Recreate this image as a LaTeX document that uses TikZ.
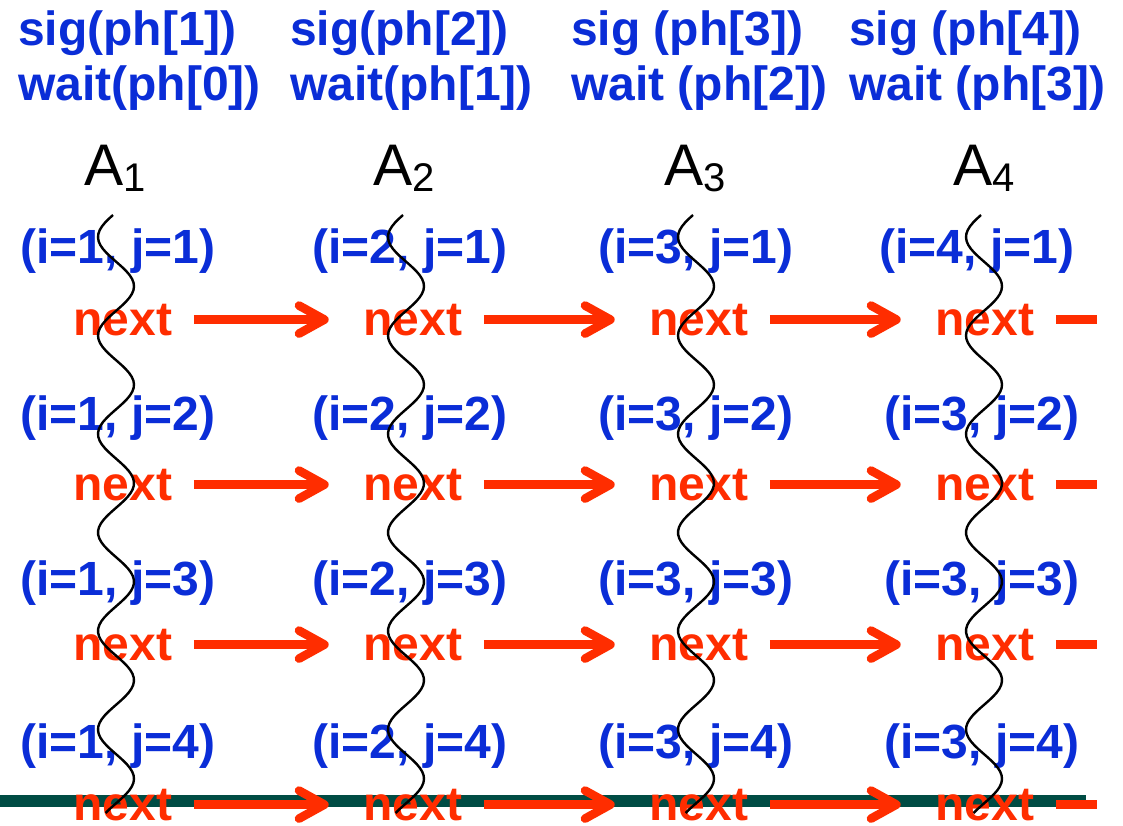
\documentclass[tikz,border=0pt]{standalone}
\usepackage{fontspec}
\setmainfont{Liberation Sans}
\usetikzlibrary{arrows.meta}

\definecolor{phblue}{RGB}{10,45,215}
\definecolor{nxtred}{RGB}{255,45,0}
\definecolor{barteal}{RGB}{0,76,68}

\newcommand{\agent}[1]{A\raisebox{-5pt}{\fontsize{30}{30}\selectfont #1}}

\begin{document}
\begin{tikzpicture}[
    x=0.75pt, y=-0.75pt,
    big/.style={font=\bfseries\fontsize{36}{41}\selectfont, inner sep=0pt},
    hdr/.style={big, text=phblue, anchor=base west},
    pairlbl/.style={big, text=phblue, anchor=base},
    nxt/.style={big, text=nxtred, anchor=base},
    agentlbl/.style={font=\fontsize{44}{44}\selectfont, inner sep=0pt, anchor=base west},
    flow/.style={draw=nxtred, line width=6.5pt, shorten <=16pt, shorten >=26pt, -{Straight Barb[length=19pt, width=21pt, round]}},
    flowend/.style={draw=nxtred, line width=6.5pt, shorten <=16pt},
    thread/.style={black, line width=1.8pt}
]
\useasboundingbox (0,0) rectangle (1123,825);

% bottom bar
\fill[barteal] (0,795) rectangle (1086,807);

% phaser calls
\node[hdr] (sig1) at (18,45) {sig(ph[1])};
\node[hdr] (wait1) at (18,100) {wait(ph[0])};
\node[hdr] (sig2) at (290,45) {sig(ph[2])};
\node[hdr] (wait2) at (290,100) {wait(ph[1])};
\node[hdr] (sig3) at (571,45) {sig (ph[3])};
\node[hdr] (wait3) at (571,100) {wait (ph[2])};
\node[hdr] (sig4) at (849,45) {sig (ph[4])};
\node[hdr] (wait4) at (849,100) {wait (ph[3])};

% activities
\node[agentlbl] (a1) at (84,185) {\agent{1}};
\node[agentlbl] (a2) at (373,185) {\agent{2}};
\node[agentlbl] (a3) at (664,185) {\agent{3}};
\node[agentlbl] (a4) at (953,185) {\agent{4}};

% iterations
\node[pairlbl] (pair11) at (118,263) {(i=1, j=1)};
\node[pairlbl] (pair21) at (410,263) {(i=2, j=1)};
\node[pairlbl] (pair31) at (696,263) {(i=3, j=1)};
\node[pairlbl] (pair41) at (977,263) {(i=4, j=1)};
\node[pairlbl] (pair12) at (118,430) {(i=1, j=2)};
\node[pairlbl] (pair22) at (410,430) {(i=2, j=2)};
\node[pairlbl] (pair32) at (696,430) {(i=3, j=2)};
\node[pairlbl] (pair42) at (982,430) {(i=3, j=2)};
\node[pairlbl] (pair13) at (118,595) {(i=1, j=3)};
\node[pairlbl] (pair23) at (410,595) {(i=2, j=3)};
\node[pairlbl] (pair33) at (696,595) {(i=3, j=3)};
\node[pairlbl] (pair43) at (982,595) {(i=3, j=3)};
\node[pairlbl] (pair14) at (118,758) {(i=1, j=4)};
\node[pairlbl] (pair24) at (410,758) {(i=2, j=4)};
\node[pairlbl] (pair34) at (696,758) {(i=3, j=4)};
\node[pairlbl] (pair44) at (982,758) {(i=3, j=4)};

% next points
\node[nxt] (next11) at (123,335) {next};
\node[nxt] (next21) at (413,335) {next};
\node[nxt] (next31) at (699,335) {next};
\node[nxt] (next41) at (985,335) {next};
\node[nxt] (next12) at (123,500) {next};
\node[nxt] (next22) at (413,500) {next};
\node[nxt] (next32) at (699,500) {next};
\node[nxt] (next42) at (985,500) {next};
\node[nxt] (next13) at (123,660) {next};
\node[nxt] (next23) at (413,660) {next};
\node[nxt] (next33) at (699,660) {next};
\node[nxt] (next43) at (985,660) {next};
\node[nxt] (next14) at (123,820) {next};
\node[nxt] (next24) at (413,820) {next};
\node[nxt] (next34) at (699,820) {next};
\node[nxt] (next44) at (985,820) {next};

\coordinate (edge) at (1097,0);
\coordinate (out1) at (next41 -| edge);
\coordinate (out2) at (next42 -| edge);
\coordinate (out3) at (next43 -| edge);
\coordinate (out4) at (next44 -| edge);

\draw[flow] (next11) -- (next21);
\draw[flow] (next21) -- (next31);
\draw[flow] (next31) -- (next41);
\draw[flowend] (next41) -- (out1);
\draw[flow] (next12) -- (next22);
\draw[flow] (next22) -- (next32);
\draw[flow] (next32) -- (next42);
\draw[flowend] (next42) -- (out2);
\draw[flow] (next13) -- (next23);
\draw[flow] (next23) -- (next33);
\draw[flow] (next33) -- (next43);
\draw[flowend] (next43) -- (out3);
\draw[flow] (next14) -- (next24);
\draw[flow] (next24) -- (next34);
\draw[flow] (next34) -- (next44);
\draw[flowend] (next44) -- (out4);

% threads
\draw[thread] plot[domain=215:813, samples=160, variable=\t] ({116-18*cos((\t-237)*3.655)}, \t);
\draw[thread] plot[domain=215:813, samples=160, variable=\t] ({406-18*cos((\t-237)*3.655)}, \t);
\draw[thread] plot[domain=215:813, samples=160, variable=\t] ({696-18*cos((\t-237)*3.655)}, \t);
\draw[thread] plot[domain=215:813, samples=160, variable=\t] ({984-18*cos((\t-237)*3.655)}, \t);
\end{tikzpicture}
\end{document}
